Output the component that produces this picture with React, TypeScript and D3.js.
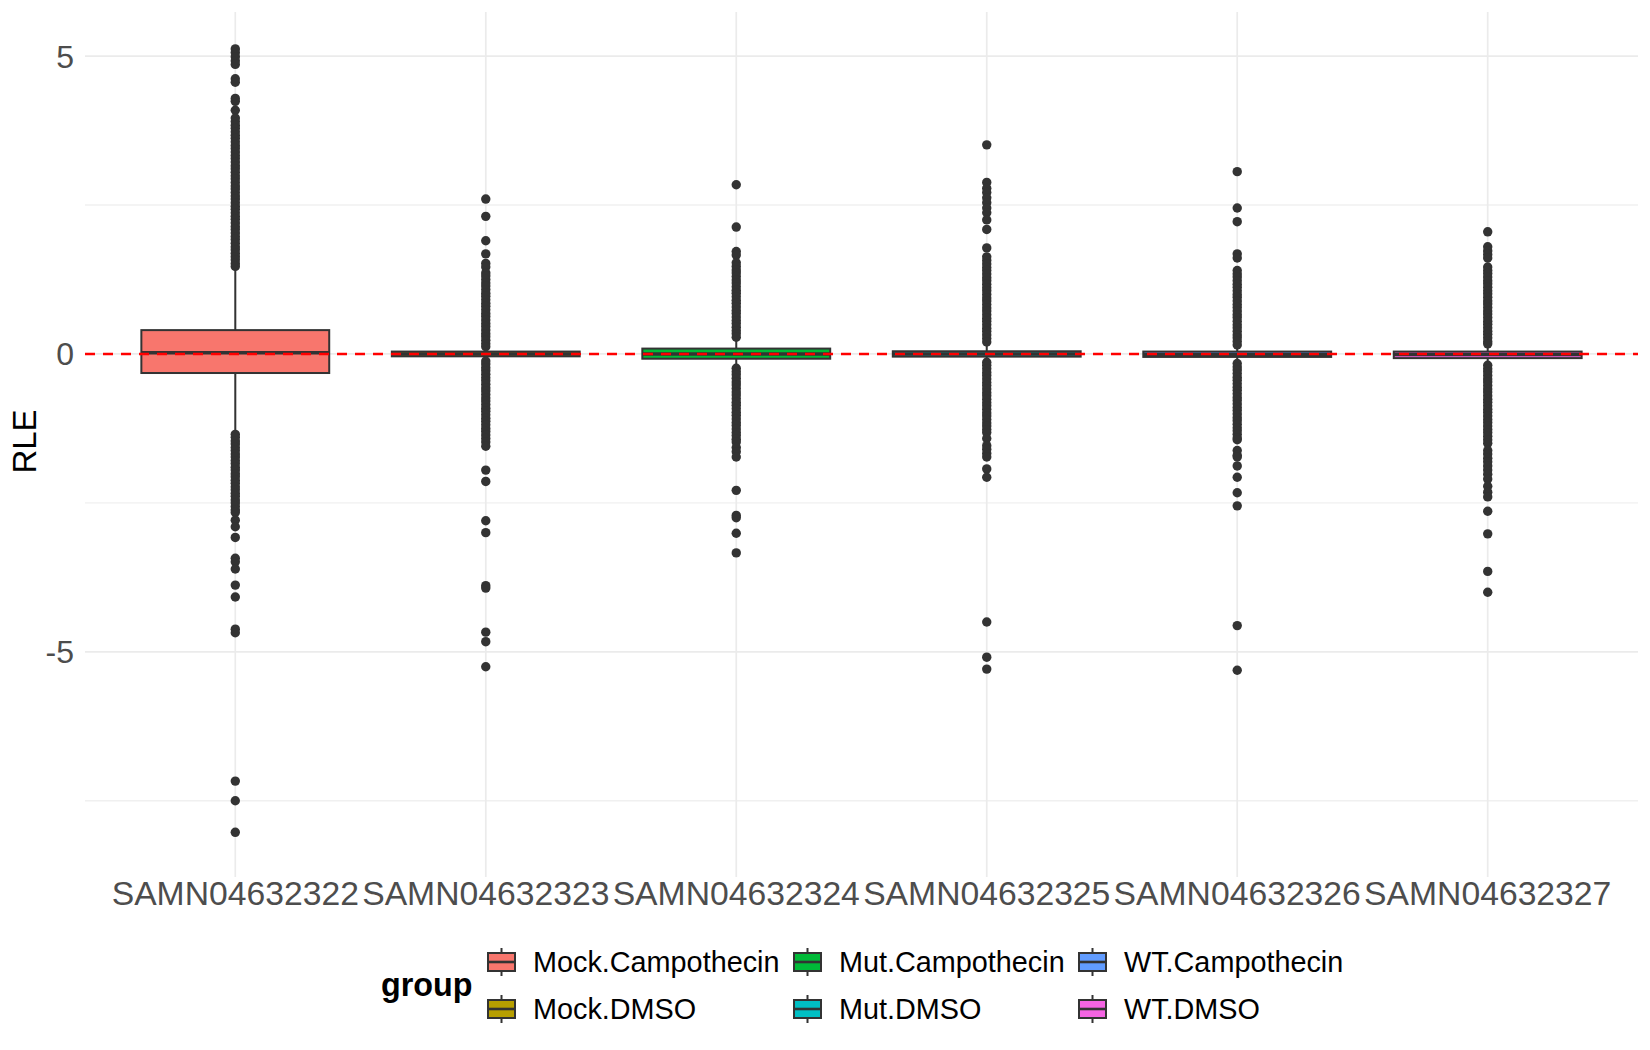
import React from "react";
import * as d3 from "d3";

const samples = ["SAMN04632322", "SAMN04632323", "SAMN04632324", "SAMN04632325", "SAMN04632326", "SAMN04632327"];
const groups = ["Mock.Campothecin", "Mock.DMSO", "Mut.Campothecin", "Mut.DMSO", "WT.Campothecin", "WT.DMSO"];
const sampleGroup = ["Mock.Campothecin", "Mock.DMSO", "Mut.Campothecin", "Mut.DMSO", "WT.Campothecin", "WT.DMSO"];
const groupColors = ["#F8766D", "#B79F00", "#00BA38", "#00BFC4", "#619CFF", "#F564E3"];

const q1 = [-0.32, -0.04, -0.08, -0.045, -0.05, -0.07];
const median = [0.02, 0.0, 0.0, 0.0, -0.01, -0.01];
const q3 = [0.40, 0.04, 0.09, 0.045, 0.04, 0.04];
const whiskerLow = [-1.30, -0.09, -0.20, -0.12, -0.14, -0.16];
const whiskerHigh = [1.41, 0.11, 0.22, 0.16, 0.13, 0.15];

const outliers1 = [5.12, 5.06, 4.99, 4.92, 4.86, 4.62, 4.56, 4.29, 4.24, 4.09, 3.96, 3.90, 3.84, 3.79, 3.73, 3.67, 3.62, 3.56, 3.50, 3.45, 3.39, 3.33, 3.28, 3.22, 3.16, 3.11, 3.05, 2.99, 2.94, 2.88, 2.82, 2.77, 2.71, 2.65, 2.60, 2.54, 2.48, 2.43, 2.37, 2.31, 2.26, 2.20, 2.14, 2.09, 2.03, 1.97, 1.92, 1.86, 1.80, 1.75, 1.69, 1.63, 1.58, 1.52, 1.47,
  -1.35, -1.40, -1.46, -1.51, -1.57, -1.62, -1.68, -1.73, -1.79, -1.84, -1.90, -1.95, -2.01, -2.06, -2.12, -2.17, -2.23, -2.28, -2.34, -2.39, -2.45, -2.50, -2.56, -2.62, -2.66, -2.79, -2.90, -3.08, -3.43, -3.49, -3.61, -3.88, -4.08, -4.62, -4.68, -7.17, -7.50, -8.03];
const outliers2 = [2.60, 2.31, 1.90, 1.68, 1.52, 1.46, 1.36, 1.31, 1.25, 1.19, 1.14, 1.08, 1.02, 0.97, 0.91, 0.85, 0.80, 0.74, 0.68, 0.63, 0.57, 0.51, 0.46, 0.40, 0.34, 0.29, 0.23, 0.17, 0.12,
  -0.12, -0.17, -0.23, -0.28, -0.34, -0.40, -0.45, -0.51, -0.57, -0.62, -0.68, -0.74, -0.79, -0.85, -0.91, -0.96, -1.02, -1.08, -1.13, -1.19, -1.25, -1.30, -1.36, -1.42, -1.48, -1.55, -1.95, -2.14, -2.80, -3.00, -3.89, -3.93, -4.67, -4.83, -5.25];
const outliers3 = [2.84, 2.13, 1.72, 1.66, 1.53, 1.47, 1.41, 1.36, 1.30, 1.24, 1.19, 1.13, 1.07, 1.02, 0.96, 0.90, 0.85, 0.79, 0.73, 0.68, 0.62, 0.56, 0.51, 0.45, 0.39, 0.34, 0.28,
  -0.24, -0.30, -0.35, -0.41, -0.47, -0.52, -0.58, -0.64, -0.69, -0.75, -0.81, -0.86, -0.92, -0.98, -1.03, -1.09, -1.15, -1.20, -1.26, -1.32, -1.37, -1.43, -1.48, -1.57, -1.64, -1.73, -2.29, -2.71, -2.75, -3.01, -3.34];
const outliers4 = [3.51, 2.88, 2.78, 2.71, 2.62, 2.54, 2.45, 2.37, 2.25, 2.09, 1.78, 1.63, 1.57, 1.51, 1.45, 1.40, 1.34, 1.28, 1.23, 1.17, 1.11, 1.06, 1.00, 0.94, 0.89, 0.83, 0.77, 0.72, 0.66, 0.60, 0.55, 0.49, 0.43, 0.38, 0.32, 0.26, 0.20,
  -0.14, -0.19, -0.25, -0.31, -0.36, -0.42, -0.48, -0.53, -0.59, -0.65, -0.70, -0.76, -0.82, -0.87, -0.93, -0.99, -1.04, -1.10, -1.16, -1.21, -1.27, -1.32, -1.42, -1.54, -1.60, -1.67, -1.73, -1.93, -2.07, -4.50, -5.09, -5.29];
const outliers5 = [3.06, 2.45, 2.22, 1.68, 1.61, 1.40, 1.34, 1.29, 1.23, 1.17, 1.12, 1.06, 1.00, 0.95, 0.89, 0.83, 0.78, 0.72, 0.66, 0.61, 0.55, 0.49, 0.44, 0.38, 0.32, 0.27, 0.21, 0.15,
  -0.16, -0.22, -0.27, -0.33, -0.39, -0.44, -0.50, -0.56, -0.61, -0.67, -0.73, -0.78, -0.84, -0.90, -0.95, -1.01, -1.07, -1.12, -1.18, -1.24, -1.29, -1.35, -1.41, -1.44, -1.62, -1.70, -1.73, -1.88, -2.07, -2.33, -2.55, -4.56, -5.31];
const outliers6 = [2.05, 1.80, 1.73, 1.67, 1.61, 1.46, 1.40, 1.35, 1.29, 1.23, 1.18, 1.12, 1.06, 1.01, 0.95, 0.89, 0.84, 0.78, 0.72, 0.67, 0.61, 0.55, 0.50, 0.44, 0.38, 0.33, 0.27, 0.21, 0.17,
  -0.19, -0.25, -0.30, -0.36, -0.42, -0.47, -0.53, -0.59, -0.64, -0.70, -0.76, -0.81, -0.87, -0.93, -0.98, -1.04, -1.10, -1.15, -1.21, -1.27, -1.32, -1.38, -1.44, -1.50, -1.62, -1.68, -1.75, -1.81, -1.88, -1.95, -2.02, -2.10, -2.22, -2.32, -2.40, -2.64, -3.02, -3.65, -4.00];
const outliers = [outliers1, outliers2, outliers3, outliers4, outliers5, outliers6];

const yMajorTicks = [-5, 0, 5];
const yMinorTicks = [-7.5, -2.5, 2.5];
const yDomain = [-8.78, 5.74];
const refLine = 0;

const W = 1650;
const H = 1050;
const panel = { left: 85, right: 1638, top: 12, bottom: 877 };
const FONT = "'Liberation Sans', Arial, Helvetica, sans-serif";
const INK = "#333333";

const x = d3.scalePoint<string>().domain(samples).range([panel.left, panel.right]).padding(0.6);
const y = d3.scaleLinear().domain(yDomain).range([panel.bottom, panel.top]);
const color = d3.scaleOrdinal<string, string>().domain(groups).range(groupColors);

const legendCols = [488, 794, 1079];
const legendRows = [962, 1009];

export default function App() {
  const step = x.step();
  const boxW = step * 0.75;
  return (
    <svg width={W} height={H} style={{ position: "absolute", left: 0, top: 0, background: "#fff" }}>
      {yMinorTicks.map((t) => (
        <line key={"mi" + t} x1={panel.left} x2={panel.right} y1={y(t)} y2={y(t)} stroke="#F0F0F0" strokeWidth={1.3} />
      ))}
      {yMajorTicks.map((t) => (
        <line key={"ma" + t} x1={panel.left} x2={panel.right} y1={y(t)} y2={y(t)} stroke="#EBEBEB" strokeWidth={1.7} />
      ))}
      {samples.map((s) => (
        <line key={"vg" + s} x1={x(s)} x2={x(s)} y1={panel.top} y2={panel.bottom} stroke="#EBEBEB" strokeWidth={1.7} />
      ))}
      {samples.map((s, i) => {
        const cx = x(s)!;
        const fill = color(sampleGroup[i]);
        return (
          <g key={"b" + s}>
            <line x1={cx} x2={cx} y1={y(q3[i])} y2={y(whiskerHigh[i])} stroke={INK} strokeWidth={2} />
            <line x1={cx} x2={cx} y1={y(q1[i])} y2={y(whiskerLow[i])} stroke={INK} strokeWidth={2} />
            <rect x={cx - boxW / 2} width={boxW} y={y(q3[i])} height={y(q1[i]) - y(q3[i])} fill={fill} stroke={INK} strokeWidth={2} />
            <line x1={cx - boxW / 2} x2={cx + boxW / 2} y1={y(median[i])} y2={y(median[i])} stroke={INK} strokeWidth={3.6} />
            {outliers[i].map((v, j) => (
              <circle key={j} cx={cx} cy={y(v)} r={4.7} fill={INK} />
            ))}
          </g>
        );
      })}
      <line x1={panel.left} x2={panel.right} y1={y(refLine)} y2={y(refLine)} stroke="#FF0000" strokeWidth={2.6} strokeDasharray="10 8" />
      {yMajorTicks.map((t) => (
        <text key={"yl" + t} x={74} y={y(t)} dy="0.36em" textAnchor="end" fontFamily={FONT} fontSize={32} fill="#4D4D4D">
          {t}
        </text>
      ))}
      <text transform={`translate(36,${(panel.top + panel.bottom) / 2 - 3}) rotate(-90)`} textAnchor="middle" fontFamily={FONT} fontSize={33} fill="#000">
        RLE
      </text>
      {samples.map((s) => (
        <text key={"xl" + s} x={x(s)} y={905} textAnchor="middle" fontFamily={FONT} fontSize={33.7} fill="#4D4D4D">
          {s}
        </text>
      ))}
      <text x={381} y={996} fontFamily={FONT} fontSize={32.3} fontWeight="bold" fill="#000">
        group
      </text>
      {groups.map((g, i) => {
        const col = Math.floor(i / 2);
        const row = i % 2;
        const kx = legendCols[col];
        const ky = legendRows[row];
        const kw = 27;
        const kh = 18;
        return (
          <g key={"lg" + g}>
            <line x1={kx + kw / 2} x2={kx + kw / 2} y1={ky - 14} y2={ky + 14} stroke={INK} strokeWidth={2} />
            <rect x={kx} y={ky - kh / 2} width={kw} height={kh} fill={color(g)} stroke={INK} strokeWidth={2} />
            <line x1={kx} x2={kx + kw} y1={ky} y2={ky} stroke={INK} strokeWidth={2.6} />
            <text x={kx + 45} y={ky + 10} fontFamily={FONT} fontSize={28.8} fill="#000">
              {g}
            </text>
          </g>
        );
      })}
    </svg>
  );
}
